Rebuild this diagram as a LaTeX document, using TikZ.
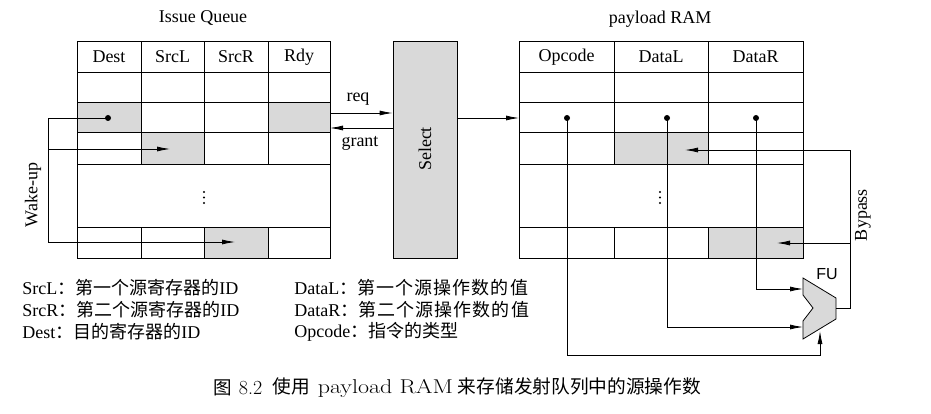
\documentclass[tikz,border=0pt]{standalone}
\usepackage{fontspec}
\newfontfamily\tnr{Liberation Serif}
\newfontfamily\cjk{Noto Sans CJK SC}
\newfontfamily\cjkw[LetterSpace=6]{Noto Sans CJK SC}
\newfontfamily\sansf{Liberation Sans}
\usetikzlibrary{arrows.meta}
\begin{document}
\begin{tikzpicture}[x=1pt,y=-1pt, line width=0.8pt,
  lab/.style={font=\tnr\fontsize{18}{21}\selectfont, inner sep=0},
  cell/.style={fill=black!15},
  arr/.style={-{Latex[length=13pt,width=5pt]}},
  dotc/.style={circle,fill,inner sep=0,minimum size=6pt},
  vdot/.style={circle,fill,inner sep=0,minimum size=2.4pt},
  leg/.style={anchor=west, inner sep=0, font=\tnr\fontsize{18}{21}\selectfont},
]
\useasboundingbox (0,0) rectangle (931,414);

% ---------- Issue Queue ----------
\node[lab] (iqt) at (203,18) {Issue Queue};
\fill[cell] (77,102.5) rectangle (141,132.5);
\fill[cell] (268,102.5) rectangle (330,132.5);
\fill[cell] (141,132.5) rectangle (204,164.5);
\fill[cell] (204,227) rectangle (268,258);
\draw (77,41.5) rectangle (330,258);
\foreach \y in {72.5,102.5,132.5,164.5,227} \draw (77,\y) -- (330,\y);
\foreach \x in {141,204,268} {\draw (\x,41.5) -- (\x,164.5); \draw (\x,227) -- (\x,258);}
\node[lab] (h1) at (109,57) {Dest};
\node[lab] (h2) at (172.5,57) {SrcL};
\node[lab] (h3) at (236,57) {SrcR};
\node[lab] (h4) at (299,57) {Rdy};
\node[vdot] (va1) at (204,192) {};
\node[vdot] (va2) at (204,197.5) {};
\node[vdot] (va3) at (204,203) {};

% ---------- Select ----------
\node[draw, fill=black!15, minimum width=64, minimum height=216.5, inner sep=0] (sel) at (425,149.75) {};
\node[lab, rotate=90] (selt) at (425,149) {Select};

% ---------- payload RAM ----------
\node[lab] (prt) at (660,19) {payload RAM};
\fill[cell] (614,132.5) rectangle (708,164.5);
\fill[cell] (708,227) rectangle (803,258);
\draw (519,41.5) rectangle (803,258);
\foreach \y in {72.5,102.5,132.5,164.5,227} \draw (519,\y) -- (803,\y);
\foreach \x in {614,708} {\draw (\x,41.5) -- (\x,164.5); \draw (\x,227) -- (\x,258);}
\node[lab] (p1) at (566.5,57) {Opcode};
\node[lab] (p2) at (661,57) {DataL};
\node[lab] (p3) at (755.5,57) {DataR};
\node[vdot] (vb1) at (660,192) {};
\node[vdot] (vb2) at (660,197.5) {};
\node[vdot] (vb3) at (660,203) {};

% ---------- req / grant ----------
\coordinate (reqs) at (330,113);
\coordinate (grs) at (393,128);
\coordinate (outs) at (457,118);
\draw[arr] (reqs) -- (reqs -| sel.west);
\draw[arr] (grs) -- (330,128);
\draw[arr] (outs) -- (519,118);
\node[lab] (reql) at (358,99) {req};
\node[lab] (grl) at (360,143) {grant};

% ---------- Wake-up ----------
\node[dotc] (d1) at (108,118) {};
\coordinate (wtop) at (48,118);
\coordinate (wmid) at (48,149);
\coordinate (wbot) at (48,242);
\coordinate (wa1) at (170,149);
\coordinate (wa2) at (235,242);
\draw (d1.center) -- (wtop) -- (wbot);
\draw[arr] (wmid) -- (wa1);
\draw[arr] (wbot) -- (wa2);
\node[lab, rotate=90] (wk) at (33,195) {Wake-up};

% ---------- FU ----------
\draw[fill=black!15] (803,278) -- (836,298) -- (836,319) -- (803,339) -- (803,321) -- (813,308) -- (803,295) -- cycle;
\node[inner sep=0, font=\sansf\fontsize{16}{18}\selectfont] (ful) at (827,274) {FU};
\coordinate (fa) at (803,289);
\coordinate (fb) at (803,327);
\coordinate (fc) at (820,331);
\coordinate (fcb) at (820,355);
\coordinate (fo) at (836,308);
\coordinate (byo) at (850,308);
\coordinate (by1) at (850,150);
\coordinate (by2) at (850,243);
\coordinate (bt1) at (685,150);
\coordinate (bt2) at (777,243);

\node[dotc] (o1) at (567,118) {};
\node[dotc] (o2) at (667,118) {};
\node[dotc] (o3) at (756,118) {};
\draw[arr] (o3.center) |- (fa);
\draw[arr] (o2.center) |- (fb);
\draw[arr] (o1.center) |- (fcb) -- (fc);
\draw (fo) -- (byo) -- (by1);
\draw[arr] (by1) -- (bt1);
\draw[arr] (by2) -- (bt2);
\node[lab, rotate=90] (byl) at (863,215) {Bypass};

% ---------- legend ----------
\node[leg] (l1) at (22,288) {SrcL{\cjk\fontsize{18}{21}\selectfont ：第一个源寄存器的}ID};
\node[leg] (l2) at (22,310) {SrcR{\cjk\fontsize{18}{21}\selectfont ：第二个源寄存器的}ID};
\node[leg] (l3) at (22,332) {Dest{\cjk\fontsize{18}{21}\selectfont ：目的寄存器的}ID};
\node[leg] (r1) at (294,288) {DataL{\cjk\fontsize{18}{21}\selectfont ：}{\cjkw\fontsize{18}{21}\selectfont 第一个源操作数的值}};
\node[leg] (r2) at (294,310) {DataR{\cjk\fontsize{18}{21}\selectfont ：}{\cjkw\fontsize{18}{21}\selectfont 第二个源操作数的值}};
\node[leg] (r3) at (294,332) {Opcode{\cjk\fontsize{18}{21}\selectfont ：指令的类型}};

% ---------- caption ----------
\node[anchor=west, inner sep=0] (cap1) at (213,388) {{\cjk\fontsize{18.5}{21}\selectfont 图}\hspace{7pt}{\fontsize{20}{22}\selectfont 8.2}};
\node[anchor=west, inner sep=0] (cap2) at (272,388) {{\cjk\fontsize{18.7}{21}\selectfont 使用}\hspace{8pt}\scalebox{1.2}[1]{\fontsize{20}{22}\selectfont payload RAM}\hspace{5pt}{\cjk\fontsize{18.7}{21}\selectfont 来存储发射队列中的源操作数}};
\end{tikzpicture}
\end{document}
